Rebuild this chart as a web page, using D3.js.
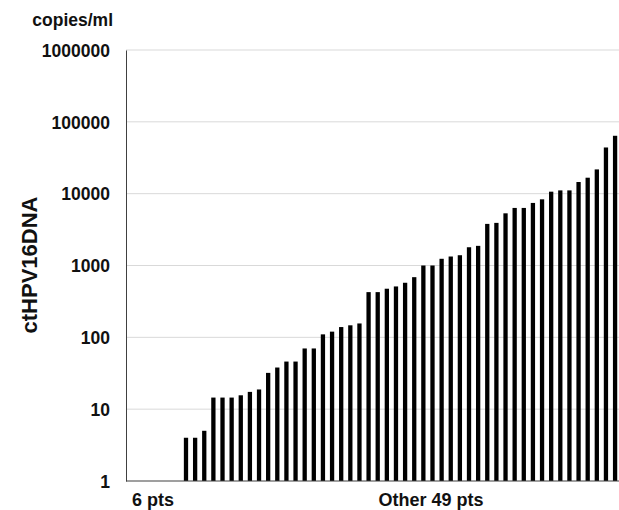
<!DOCTYPE html>
<html>
<head>
<meta charset="utf-8">
<title>ctHPV16DNA</title>
<script src="https://d3js.org/d3.v7.min.js"></script>
<style>
  body { margin: 0; background: #fff; }
  text { font-family: "Liberation Sans", Arial, sans-serif; font-weight: bold; fill: #111; }
</style>
</head>
<body>
<div id="chart"></div>
<script>
// patients sorted by value; first 6 have no detectable ctDNA (drawn at 1)
var patients = d3.range(54);
var copies = [
  1, 1, 1, 1, 1, 1,
  4.0, 4.0, 5.0, 14.5, 14.5, 14.5, 15.6, 17.4, 18.8, 32,
  38, 46, 46, 70, 70, 110, 120, 139, 147, 156,
  426, 426, 475, 511, 575, 688, 1000, 1000, 1240, 1334,
  1390, 1795, 1877, 3795, 3920, 5325, 6330, 6330, 7430, 8340,
  10660, 11110, 11110, 14530, 16680, 21760, 43950, 63950
];
var yTicks = [1, 10, 100, 1000, 10000, 100000, 1000000];
var groupLabels = ["6 pts", "Other 49 pts"];
var groupStart = [0, 27];

var width = 619, height = 510;
var svg = d3.select("#chart").append("svg")
    .attr("width", width)
    .attr("height", height);

var x = d3.scaleBand()
    .domain(patients)
    .range([126.7, 619.6])
    .paddingInner(0.53)
    .paddingOuter(0.26);

var y = d3.scaleLog()
    .domain([1, 1000000])
    .range([481, 50]);

// gridlines
svg.append("g")
  .selectAll("line")
  .data(yTicks.slice(1))
  .enter().append("line")
    .attr("x1", 126)
    .attr("x2", width)
    .attr("y1", function(d) { return y(d); })
    .attr("y2", function(d) { return y(d); })
    .style("stroke", "#d9d9d9")
    .style("stroke-width", 1);

// bars
svg.append("g")
  .selectAll("rect")
  .data(copies)
  .enter().append("rect")
    .attr("x", function(d, i) { return x(patients[i]); })
    .attr("width", x.bandwidth())
    .attr("y", function(d) { return y(d); })
    .attr("height", function(d) { return y(1) - y(d); })
    .style("fill", "#000");

// y axis
var yAxis = svg.append("g")
    .attr("transform", "translate(126,0)")
    .call(d3.axisLeft(y).tickValues(yTicks).tickFormat(d3.format("d")).tickSize(0).tickPadding(16));
yAxis.select(".domain").style("stroke", "#404040");
yAxis.selectAll("text")
    .style("font-size", "17.5px")
    .attr("dy", "0.36em");

// baseline
svg.append("line")
    .attr("x1", 126).attr("x2", width)
    .attr("y1", y(1)).attr("y2", y(1))
    .style("stroke", "#404040")
    .style("stroke-width", 1.2);

svg.append("text")
    .attr("x", 113)
    .attr("y", 26)
    .attr("text-anchor", "end")
    .style("font-size", "17.5px")
    .text("copies/ml");

svg.append("text")
    .attr("transform", "translate(37,265) rotate(-90)")
    .attr("text-anchor", "middle")
    .style("font-size", "22px")
    .text("ctHPV16DNA");

svg.append("g")
  .selectAll("text")
  .data(groupLabels)
  .enter().append("text")
    .attr("x", function(d, i) { return x(patients[groupStart[i]]) + 3; })
    .attr("y", 506)
    .style("font-size", "18px")
    .text(function(d) { return d; });
</script>
</body>
</html>
